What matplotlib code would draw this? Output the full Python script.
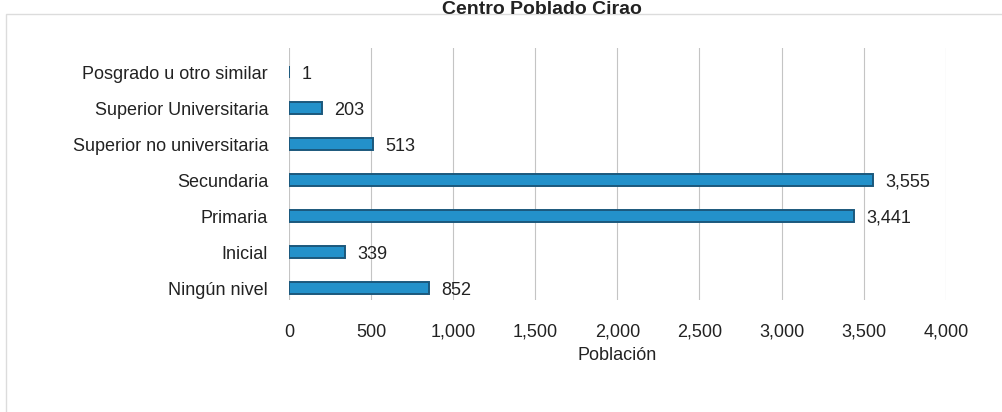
import matplotlib
matplotlib.use("Agg")
import matplotlib.pyplot as plt
from matplotlib.patches import Rectangle
from matplotlib.ticker import FuncFormatter

# nivel educativo alcanzado, de abajo hacia arriba
niveles = ["Ningún nivel", "Inicial", "Primaria", "Secundaria",
           "Superior no universitaria", "Superior Universitaria",
           "Posgrado u otro similar"]
poblacion = [852, 339, 3441, 3555, 513, 203, 1]
xticks = [0, 500, 1000, 1500, 2000, 2500, 3000, 3500, 4000]

plt.rcParams['font.family'] = ['Liberation Sans', 'DejaVu Sans']

fig = plt.figure(figsize=(10.03, 4.12), dpi=100)
ax = fig.add_axes([0.288, 0.272, 0.655, 0.611])

# marco gris claro alrededor del grafico
fig.patches.append(Rectangle((0.006, -0.01), 1.2, 0.976, transform=fig.transFigure,
                             fill=False, edgecolor='#dcdcdc', linewidth=1.0))

y = list(range(len(niveles)))
ax.barh(y, poblacion, height=0.33, color='#2391ca', edgecolor='#1b587c', linewidth=1.4)

for yi, v in zip(y, poblacion):
    ax.text(v + 75, yi - 0.06, f"{v:,}", va='center', ha='left', fontsize=13, color='#222222')

ax.set_xlim(0, 4000)
ax.set_ylim(-0.33, 6.67)
ax.set_xticks(xticks)
ax.xaxis.set_major_formatter(FuncFormatter(lambda v, p: f"{int(v):,}"))
ax.set_yticks(y)
ax.set_yticklabels(niveles)
ax.tick_params(axis='both', length=0, labelsize=13, colors='#222222')
ax.tick_params(axis='x', pad=17)
ax.tick_params(axis='y', pad=15)

ax.grid(True, axis='x', color='#c4c4c4', linewidth=0.8)
ax.set_axisbelow(True)
for s in ax.spines.values():
    s.set_visible(False)

ax.set_xlabel("Población", fontsize=13, color='#222222', labelpad=5)

fig.text(0.54, 1 - 14 / 412, "Centro Poblado Cirao", ha='center', va='baseline',
         fontsize=14, fontweight='bold', color='#222222')

fig.savefig("out.png", dpi=100)
